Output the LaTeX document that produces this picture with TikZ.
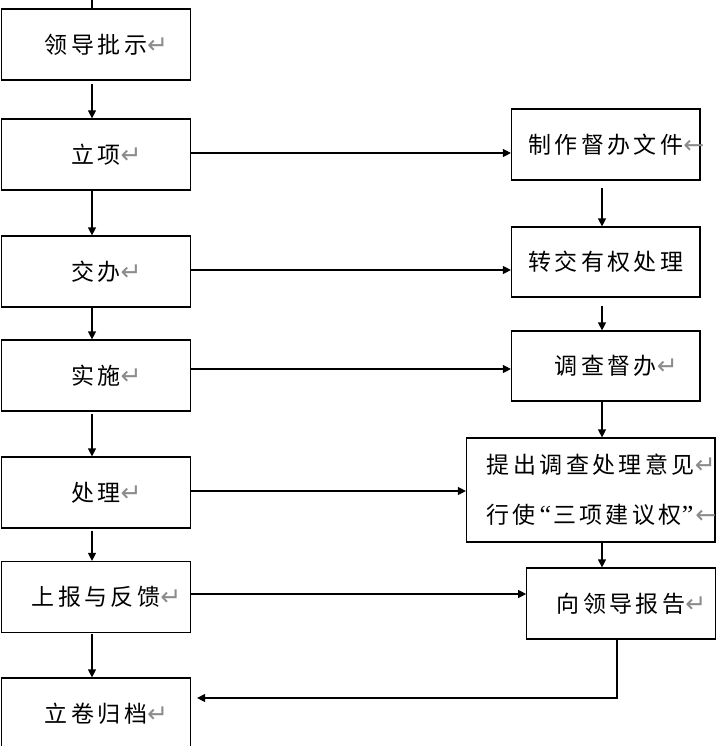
\documentclass[tikz,border=0pt]{standalone}
\usepackage{fontspec}
\usetikzlibrary{arrows.meta}
\newfontfamily\cjk[LetterSpace=15]{Noto Sans CJK SC}
\newfontfamily\symf{DejaVu Sans}
\newfontfamily\quotef{Liberation Serif}
\definecolor{retgray}{RGB}{140,140,140}
\newcommand{\rmk}{\rlap{\textcolor{retgray}{\symf\fontsize{25}{25}\selectfont ↵}}}
\newcommand{\lmk}{\rlap{\textcolor{retgray}{\symf\fontsize{25}{25}\selectfont ←}}}
\newcommand{\oq}{{\quotef\fontsize{26}{26}\selectfont\hspace{4pt}“\hspace{2pt}}}
\newcommand{\cq}{{\quotef\fontsize{26}{26}\selectfont ”\hspace{2pt}}}
\begin{document}
\begin{tikzpicture}[x=1pt,y=-1pt,
  box/.style={draw, line width=1.2pt, inner sep=0pt, align=center,
    font=\cjk\fontsize{23}{50}\selectfont},
  lbox/.style={box, minimum width=189pt, minimum height=71pt},
  rbox/.style={box, minimum width=188.5pt, minimum height=71pt},
  conn/.style={line width=1.2pt},
  arr/.style={conn, -{Triangle[length=8pt,width=8pt]}}]
\clip (0,0) rectangle (726,746);
\fill[white] (0,0) rectangle (726,746);
% left column
\node[lbox] (b1) at (96,44.5) {领导批示\rmk};
\node[lbox] (b2) at (96,154.5) {立项\rmk};
\node[lbox] (b3) at (96,271.5) {交办\rmk};
\node[lbox] (b4) at (96,375.5) {实施\rmk};
\node[lbox] (b5) at (96,492.5) {处理\rmk};
\node[lbox] (b6) at (96,597) {上报与反馈\rmk};
\node[lbox] (b7) at (96,713.5) {立卷归档\rmk};
% right column
\node[rbox] (bA) at (605.75,144.5) {制作督办文件\lmk};
\node[rbox, minimum height=70pt] (bB) at (605.75,262) {转交有权处理};
\node[rbox, minimum height=70pt] (bC) at (605.75,366) {调查督办\rmk};
\node[box, minimum width=248.5pt, minimum height=104pt] (bD) at (590.75,490)
  {提出调查处理意见\rmk\\行使\oq 三项建议权\cq\lmk};
\node[rbox] (bE) at (621,603.5) {向领导报告\rmk};
% helper coordinates
\coordinate (vl) at (92,0);
\coordinate (vr) at (602,0);
\coordinate (top) at (92,0);
\coordinate (h2) at (0,153);
\coordinate (h3) at (0,270);
\coordinate (h4) at (0,369);
\coordinate (h5) at (0,491);
\coordinate (h6) at (0,594);
\coordinate (c1) at (617,698);
% left vertical
\draw[conn] (top) -- (b1.north -| vl);
\draw[arr, shorten <=3pt] (b1.south -| vl) -- (b2.north -| vl);
\draw[arr] (b2.south -| vl) -- (b3.north -| vl);
\draw[arr] (b3.south -| vl) -- (b4.north -| vl);
\draw[arr, shorten <=2pt] (b4.south -| vl) -- (b5.north -| vl);
\draw[arr, shorten <=2pt] (b5.south -| vl) -- (b6.north -| vl);
\draw[arr, shorten <=1pt] (b6.south -| vl) -- (b7.north -| vl);
% right vertical
\draw[arr, shorten <=7pt] (bA.south -| vr) -- (bB.north -| vr);
\draw[arr, shorten <=8pt] (bB.south -| vr) -- (bC.north -| vr);
\draw[arr] (bC.south -| vr) -- (bD.north -| vr);
\draw[arr] (bD.south -| vr) -- (bE.north -| vr);
% horizontal
\draw[arr] (b2.east |- h2) -- (bA.west |- h2);
\draw[arr] (b3.east |- h3) -- (bB.west |- h3);
\draw[arr] (b4.east |- h4) -- (bC.west |- h4);
\draw[arr] (b5.east |- h5) -- (bD.west |- h5);
\draw[arr] (b6.east |- h6) -- (bE.west |- h6);
% return
\draw[arr, shorten >=6pt] (bE.south -| c1) -- (c1) -- (b7.east |- c1);
\end{tikzpicture}
\end{document}
